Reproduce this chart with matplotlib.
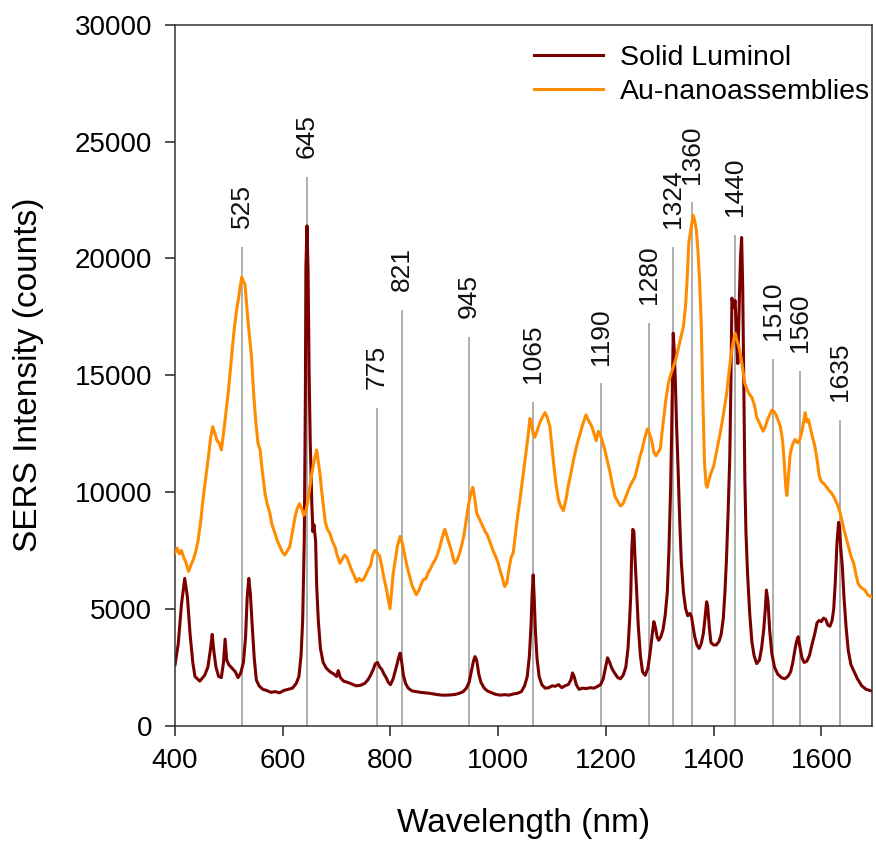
import numpy as np
import matplotlib
matplotlib.use("Agg")
import matplotlib.pyplot as plt

plt.rcParams['font.family'] = ['Liberation Sans', 'DejaVu Sans']

# Solid luminol spectrum (wavelength nm, counts)
lum_wl = [400, 406, 412, 418, 423, 428, 433, 437, 446, 455,
          461, 466, 469, 472, 476, 481, 486, 490, 493, 496,
          500, 506, 512, 517, 522, 527, 531, 534, 537, 540,
          543, 547, 551, 556, 563, 570, 578, 586, 594, 602,
          610, 618, 625, 630, 634, 637, 640, 642, 643, 645,
          647, 649, 651, 654, 656, 658, 661, 663, 666, 670,
          675, 681, 688, 695, 700, 703, 707, 713, 720, 728,
          736, 744, 752, 758, 763, 768, 772, 776, 780, 784,
          788, 792, 796, 800, 805, 809, 812, 815, 818, 821,
          824, 828, 833, 840, 848, 856, 864, 872, 880, 888,
          896, 904, 912, 920, 928, 935, 941, 946, 950, 954,
          957, 960, 964, 968, 974, 980, 988, 996, 1004, 1012,
          1020, 1028, 1036, 1043, 1049, 1054, 1058, 1061, 1063, 1065,
          1067, 1069, 1072, 1076, 1081, 1087, 1094, 1100, 1106, 1112,
          1118, 1124, 1130, 1135, 1138, 1141, 1145, 1150, 1157, 1164,
          1171, 1178, 1185, 1190, 1195, 1199, 1203, 1207, 1211, 1216,
          1222, 1227, 1232, 1237, 1241, 1244, 1246, 1248, 1250, 1252,
          1254, 1257, 1260, 1264, 1268, 1273, 1278, 1282, 1286, 1289,
          1292, 1295, 1298, 1302, 1306, 1310, 1314, 1317, 1320, 1322,
          1324, 1325, 1327, 1329, 1331, 1334, 1337, 1340, 1344, 1348,
          1352, 1356, 1359, 1362, 1365, 1369, 1373, 1377, 1381, 1384,
          1387, 1389, 1392, 1395, 1400, 1405, 1410, 1414, 1418, 1421,
          1424, 1427, 1430, 1432, 1434, 1437, 1440, 1443, 1445, 1448,
          1450, 1452, 1454, 1456, 1458, 1460, 1463, 1467, 1471, 1475,
          1480, 1485, 1489, 1493, 1496, 1498, 1501, 1504, 1508, 1513,
          1519, 1526, 1532, 1538, 1543, 1547, 1551, 1554, 1557, 1560,
          1564, 1568, 1573, 1578, 1583, 1588, 1592, 1596, 1600, 1604,
          1608, 1612, 1616, 1620, 1623, 1626, 1629, 1632, 1634, 1636,
          1639, 1642, 1646, 1650, 1655, 1660, 1667, 1675, 1683, 1690,
          1694]
lum_counts = [2600, 3500, 5200, 6300, 5500, 3900, 2700, 2100, 1900, 2150,
              2500, 3300, 3900, 3200, 2500, 2100, 2050, 2700, 3700, 2800,
              2600, 2450, 2300, 2050, 2250, 2700, 3800, 5500, 6300, 5600,
              4400, 2900, 1950, 1700, 1550, 1500, 1420, 1450, 1400, 1500,
              1550, 1600, 1800, 2100, 3000, 4500, 8000, 14000, 19600, 21400,
              19500, 15000, 12200, 9500, 8300, 8600, 7900, 6000, 4500, 3300,
              2700, 2450, 2300, 2200, 2100, 2350, 2050, 1900, 1850, 1780,
              1700, 1720, 1800, 1950, 2150, 2400, 2650, 2700, 2500, 2400,
              2200, 2050, 1850, 1750, 2000, 2350, 2600, 2900, 3100, 2700,
              2150, 1800, 1600, 1480, 1450, 1420, 1400, 1380, 1350, 1320,
              1300, 1300, 1310, 1330, 1380, 1450, 1600, 1850, 2300, 2750,
              2950, 2800, 2200, 1850, 1600, 1480, 1400, 1330, 1300, 1320,
              1300, 1350, 1380, 1450, 1700, 2100, 3000, 4300, 5600, 6450,
              5400, 4100, 2900, 2100, 1750, 1600, 1620, 1700, 1680, 1750,
              1620, 1700, 1750, 1950, 2250, 2100, 1750, 1550, 1600, 1580,
              1620, 1600, 1680, 1750, 2000, 2450, 2900, 2700, 2450, 2250,
              2050, 2000, 2150, 2500, 3300, 4500, 5500, 7500, 8400, 8300,
              7200, 5800, 4300, 3000, 2300, 2150, 2450, 3100, 3900, 4450,
              4200, 3800, 3650, 3800, 4100, 4700, 5700, 7500, 10000, 12500,
              15500, 16800, 16000, 14700, 13000, 11000, 8800, 7000, 5700, 5000,
              4700, 4800, 4650, 4200, 3800, 3450, 3300, 3500, 3950, 4600,
              5300, 5100, 4200, 3550, 3450, 3450, 3600, 3900, 4600, 5700,
              7200, 9200, 11500, 14500, 18300, 17900, 18200, 16300, 15500, 18500,
              20100, 20900, 18800, 14500, 10500, 8300, 6500, 4800, 3600, 3000,
              2650, 2800, 3300, 4100, 5000, 5800, 5300, 4100, 3100, 2500,
              2200, 2050, 2000, 2100, 2300, 2700, 3250, 3600, 3800, 3400,
              2900, 2700, 2750, 3000, 3500, 3950, 4400, 4500, 4450, 4600,
              4550, 4300, 4250, 4500, 5000, 6200, 7800, 8700, 8500, 7600,
              6800, 5500, 4200, 3200, 2600, 2350, 2000, 1700, 1550, 1500,
              1480]

# Au-nanoassemblies spectrum (wavelength nm, counts)
au_wl = [400, 404, 408, 412, 416, 420, 425, 430, 434, 439,
         443, 448, 452, 457, 462, 466, 470, 474, 478, 482,
         486, 490, 494, 499, 503, 507, 511, 515, 518, 521,
         524, 527, 530, 533, 536, 539, 542, 546, 550, 554,
         558, 562, 567, 571, 576, 580, 586, 590, 595, 600,
         604, 609, 613, 618, 623, 627, 631, 635, 639, 642,
         645, 649, 654, 658, 663, 666, 669, 672, 675, 679,
         683, 688, 692, 697, 701, 706, 710, 715, 719, 724,
         728, 733, 737, 742, 746, 750, 755, 759, 763, 767,
         771, 775, 780, 784, 788, 792, 796, 799, 802, 805,
         809, 813, 818, 822, 827, 831, 836, 840, 844, 848,
         853, 857, 861, 866, 870, 874, 878, 883, 887, 891,
         895, 898, 901, 905, 909, 913, 917, 920, 924, 928,
         932, 936, 940, 944, 947, 950, 953, 956, 960, 964,
         968, 972, 976, 980, 984, 988, 992, 996, 1000, 1004,
         1008, 1012, 1016, 1020, 1024, 1028, 1032, 1036, 1040, 1045,
         1050, 1055, 1059, 1062, 1065, 1068, 1072, 1077, 1082, 1087,
         1091, 1096, 1100, 1103, 1107, 1112, 1116, 1121, 1126, 1130,
         1135, 1140, 1146, 1152, 1157, 1163, 1168, 1174, 1178, 1182,
         1186, 1189, 1193, 1198, 1203, 1208, 1212, 1217, 1222, 1227,
         1232, 1237, 1242, 1248, 1254, 1259, 1263, 1267, 1272, 1277,
         1281, 1285, 1289, 1293, 1297, 1301, 1304, 1307, 1311, 1316,
         1320, 1325, 1330, 1334, 1339, 1344, 1348, 1351, 1354, 1358,
         1362, 1365, 1368, 1371, 1374, 1377, 1380, 1383, 1386, 1388,
         1391, 1395, 1400, 1406, 1412, 1418, 1424, 1428, 1431, 1434,
         1437, 1440, 1443, 1446, 1449, 1452, 1455, 1458, 1462, 1466,
         1471, 1476, 1480, 1484, 1488, 1492, 1496, 1500, 1504, 1508,
         1512, 1516, 1520, 1524, 1528, 1531, 1534, 1536, 1538, 1542,
         1546, 1551, 1556, 1560, 1564, 1567, 1570, 1573, 1576, 1579,
         1583, 1588, 1592, 1596, 1600, 1605, 1610, 1615, 1619, 1623,
         1627, 1631, 1635, 1639, 1643, 1647, 1651, 1655, 1660, 1664,
         1668, 1672, 1677, 1681, 1686, 1690, 1694]
au_counts = [7400, 7600, 7350, 7500, 7200, 7000, 6600, 6900, 7100, 7500,
             7950, 8800, 9700, 10600, 11500, 12300, 12800, 12500, 12200, 12100,
             11800, 12500, 13300, 14300, 15300, 16300, 17200, 17900, 18300, 18800,
             19200, 19000, 18900, 18000, 17200, 16500, 15800, 14200, 13000, 12100,
             11800, 10900, 9950, 9500, 9100, 8600, 8200, 7900, 7650, 7400,
             7300, 7500, 7650, 8300, 8950, 9300, 9500, 9300, 9000, 9100,
             9400, 10000, 10800, 11300, 11800, 11300, 10800, 10100, 9500, 8700,
             8400, 8200, 7900, 7650, 7300, 6950, 7100, 7300, 7200, 6900,
             6650, 6400, 6150, 6300, 6200, 6250, 6500, 6700, 6850, 7300,
             7500, 7400, 7250, 6800, 6300, 5900, 5400, 5000, 5700, 6500,
             7100, 7700, 8100, 7800, 7250, 6800, 6350, 6000, 5800, 5600,
             5800, 6050, 6250, 6300, 6550, 6700, 6900, 7100, 7300, 7600,
             7950, 8200, 8400, 8100, 7800, 7500, 7100, 6950, 7100, 7350,
             7700, 8100, 8700, 9300, 9700, 10000, 10200, 9800, 9100, 8900,
             8700, 8500, 8300, 8150, 7900, 7650, 7400, 7200, 6950, 6600,
             6300, 5950, 6100, 6700, 7200, 7400, 8200, 8950, 9600, 10500,
             11400, 12300, 13150, 12900, 12500, 12350, 12600, 12950, 13200, 13400,
             13200, 12800, 11900, 11200, 10400, 9650, 9400, 9200, 9700, 10250,
             10800, 11400, 12000, 12500, 12900, 13300, 13050, 12800, 12500, 12200,
             12600, 12500, 12200, 11800, 11300, 10800, 10300, 9800, 9600, 9400,
             9500, 9800, 10100, 10400, 10650, 11100, 11500, 11800, 12300, 12700,
             12500, 12200, 11700, 11550, 11700, 11850, 12500, 13100, 13900, 14650,
             15000, 15350, 15700, 16100, 16600, 17100, 18000, 19200, 20700, 21300,
             21850, 21600, 21200, 20300, 19000, 17200, 14000, 11300, 10300, 10200,
             10500, 10800, 11100, 11800, 12500, 13300, 14200, 15000, 15600, 16100,
             16500, 16800, 16500, 16300, 16000, 15600, 15100, 14650, 14400, 14200,
             14050, 13700, 13200, 13000, 12800, 12600, 12800, 13100, 13300, 13500,
             13450, 13300, 13050, 12800, 12200, 11300, 10200, 9850, 10400, 11600,
             12000, 12250, 12100, 12250, 12600, 13000, 13400, 13000, 13100, 12800,
             12400, 11950, 11400, 10700, 10450, 10350, 10200, 10050, 9950, 9800,
             9600, 9400, 9100, 8700, 8300, 7950, 7600, 7250, 6950, 6500,
             6100, 5950, 5850, 5800, 5600, 5550, 5500]

# marked bands and the height of their marker lines
peak_pos = [525, 645, 775, 821, 945, 1065, 1190, 1280, 1324, 1360, 1440, 1510, 1560, 1635]
peak_top = [20500, 23500, 13600, 17800, 16650, 13850, 14650, 17250, 20500, 22400, 21000, 15700, 15200, 13100]

fig = plt.figure(figsize=(8.76, 8.44), dpi=100)
ax = fig.add_axes([0.1998, 0.1404, 0.7956, 0.830])

ax.vlines(peak_pos, 0, peak_top, color='#9a9a9a', lw=1.1, zorder=1)
for p, top in zip(peak_pos, peak_top):
    ax.text(p, top + 800, str(p), rotation=90, ha='center', va='bottom',
            fontsize=19, color='#111111')

ax.plot(lum_wl, lum_counts, color='#7a0000', lw=2.2, label='Solid Luminol', zorder=2)
ax.plot(au_wl, au_counts, color='#ff8c00', lw=2.2, label='Au-nanoassemblies', zorder=3)

ax.set_xlim(400, 1694)
ax.set_ylim(0, 30000)
ax.set_xticks([400, 600, 800, 1000, 1200, 1400, 1600])
ax.set_yticks(np.arange(0, 30001, 5000))
ax.tick_params(direction='out', length=7.5, width=1.1, labelsize=20, pad=9,
               colors='#222222', labelcolor='black')
for s in ax.spines.values():
    s.set_linewidth(1.1)
    s.set_color('#333333')

ax.set_xlabel('Wavelength (nm)', fontsize=24, labelpad=24)
ax.set_ylabel('SERS Intensity (counts)', fontsize=24, labelpad=22)

ax.legend(loc='upper right', bbox_to_anchor=(0.997, 0.972), frameon=False,
          fontsize=20.5, handlelength=2.4, handletextpad=0.6, labelspacing=0.28,
          borderpad=0, borderaxespad=0)

fig.savefig('out.png', dpi=100)
